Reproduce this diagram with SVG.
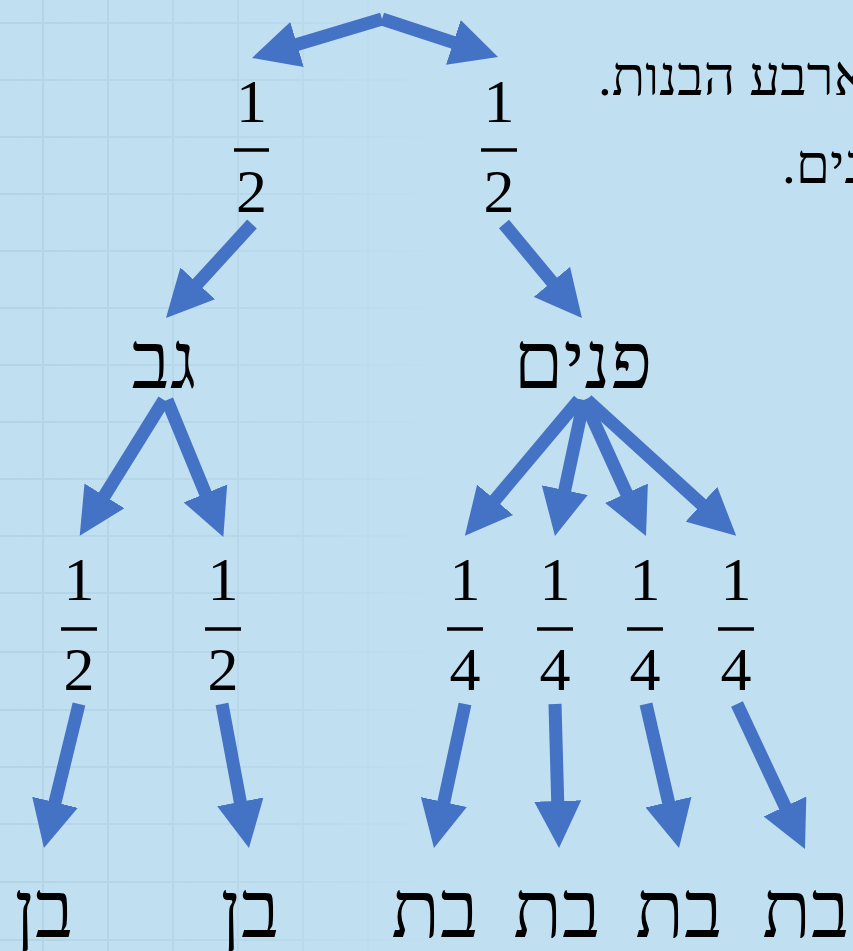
<svg xmlns="http://www.w3.org/2000/svg" width="853" height="951" viewBox="0 0 853 951">
  <style>
    .conn line { stroke: #4472C4; stroke-width: 13; stroke-linecap: butt; fill: none; marker-end: url(#head); }
    .frac { font-family: "Liberation Serif", "DejaVu Serif", serif; font-size: 62px; fill: #000; text-anchor: middle; }
    .bar { stroke: #000; stroke-width: 3.5; }
    .heb { font-family: "Liberation Serif", "DejaVu Sans", serif; font-size: 80px; fill: #000; text-anchor: middle; }
    .note { font-family: "Liberation Serif", "DejaVu Sans", serif; font-size: 55px; fill: #000; text-anchor: end; direction: rtl; }
    .grid line { stroke: #A9CBE0; stroke-width: 2; }
  </style>
  <defs>
    <marker id="head" markerUnits="userSpaceOnUse" viewBox="0 0 47 47" markerWidth="47" markerHeight="47" refX="7" refY="23.5" orient="auto">
      <path d="M0,0 L47,23.5 L0,47 Z" fill="#4472C4"/>
    </marker>
    <linearGradient id="fade" x1="0" y1="0" x2="853" y2="0" gradientUnits="userSpaceOnUse">
      <stop offset="0" stop-color="#fff" stop-opacity="0.55"/>
      <stop offset="0.3" stop-color="#fff" stop-opacity="0.35"/>
      <stop offset="0.5" stop-color="#fff" stop-opacity="0"/>
    </linearGradient>
    <mask id="gridmask" maskUnits="userSpaceOnUse" x="0" y="0" width="853" height="951">
      <rect x="0" y="0" width="853" height="951" fill="url(#fade)"/>
    </mask>
  </defs>

  <rect x="0" y="0" width="853" height="951" fill="#C0DFF1"/>

  <g class="grid" mask="url(#gridmask)">
    <line x1="43" y1="0" x2="43" y2="951"/>
    <line x1="108" y1="0" x2="108" y2="951"/>
    <line x1="173" y1="0" x2="173" y2="951"/>
    <line x1="238" y1="0" x2="238" y2="951"/>
    <line x1="303" y1="0" x2="303" y2="951"/>
    <line x1="368" y1="0" x2="368" y2="951"/>
    <line x1="433" y1="0" x2="433" y2="951"/>
    <line x1="0" y1="23" x2="853" y2="23"/>
    <line x1="0" y1="80" x2="853" y2="80"/>
    <line x1="0" y1="137" x2="853" y2="137"/>
    <line x1="0" y1="194" x2="853" y2="194"/>
    <line x1="0" y1="251" x2="853" y2="251"/>
    <line x1="0" y1="308" x2="853" y2="308"/>
    <line x1="0" y1="365" x2="853" y2="365"/>
    <line x1="0" y1="422" x2="853" y2="422"/>
    <line x1="0" y1="479" x2="853" y2="479"/>
    <line x1="0" y1="536" x2="853" y2="536"/>
    <line x1="0" y1="593" x2="853" y2="593"/>
    <line x1="0" y1="652" x2="853" y2="652"/>
    <line x1="0" y1="710" x2="853" y2="710"/>
    <line x1="0" y1="767" x2="853" y2="767"/>
    <line x1="0" y1="824" x2="853" y2="824"/>
    <line x1="0" y1="882" x2="853" y2="882"/>
    <line x1="0" y1="940" x2="853" y2="940"/>
  </g>

  <g id="note">
    <text class="note" x="598" y="95">ארבע הבנות.</text>
    <text class="note" x="782" y="183">פנים.</text>
  </g>

  <g class="conn" id="connectors">
    <line x1="382" y1="19" x2="290.3" y2="46.5"/>
    <line x1="382" y1="19" x2="460" y2="44.6"/>
    <line x1="252" y1="224" x2="193" y2="288.5"/>
    <line x1="504" y1="224" x2="556.4" y2="287.2"/>
    <line x1="164" y1="400" x2="100.8" y2="501.8"/>
    <line x1="167" y1="400" x2="208.1" y2="499.9"/>
    <line x1="579" y1="400" x2="490.6" y2="505.2"/>
    <line x1="584" y1="400" x2="563.3" y2="496.9"/>
    <line x1="584" y1="400" x2="629.4" y2="499.6"/>
    <line x1="587" y1="400" x2="706.6" y2="508.9"/>
    <line x1="79" y1="704" x2="53.4" y2="809.1"/>
    <line x1="222" y1="704" x2="241.6" y2="808.7"/>
    <line x1="465" y1="704" x2="442.4" y2="808.9"/>
    <line x1="555" y1="704" x2="557.9" y2="808"/>
    <line x1="646" y1="704" x2="670.1" y2="809"/>
    <line x1="737" y1="704" x2="788" y2="812.8"/>
  </g>

  <g id="p-left-top">
    <text class="frac" x="251.5" y="122">1</text>
    <line class="bar" x1="234" y1="150" x2="269" y2="150"/>
    <text class="frac" x="251.5" y="212">2</text>
  </g>
  <g id="p-right-top">
    <text class="frac" x="499" y="122">1</text>
    <line class="bar" x1="481" y1="150" x2="517" y2="150"/>
    <text class="frac" x="499" y="212">2</text>
  </g>

  <g id="gav"><text class="heb" x="164" y="388">גב</text></g>
  <g id="panim"><text class="heb" x="583" y="388">פנים</text></g>

  <g id="p-half-1">
    <text class="frac" x="79" y="600">1</text>
    <line class="bar" x1="61" y1="629" x2="97" y2="629"/>
    <text class="frac" x="79" y="690">2</text>
  </g>
  <g id="p-half-2">
    <text class="frac" x="223" y="600">1</text>
    <line class="bar" x1="205" y1="629" x2="241" y2="629"/>
    <text class="frac" x="223" y="690">2</text>
  </g>
  <g id="p-quarter-1">
    <text class="frac" x="465" y="600">1</text>
    <line class="bar" x1="447" y1="629" x2="483" y2="629"/>
    <text class="frac" x="465" y="690">4</text>
  </g>
  <g id="p-quarter-2">
    <text class="frac" x="555" y="600">1</text>
    <line class="bar" x1="537" y1="629" x2="573" y2="629"/>
    <text class="frac" x="555" y="690">4</text>
  </g>
  <g id="p-quarter-3">
    <text class="frac" x="645" y="600">1</text>
    <line class="bar" x1="627" y1="629" x2="663" y2="629"/>
    <text class="frac" x="645" y="690">4</text>
  </g>
  <g id="p-quarter-4">
    <text class="frac" x="736" y="600">1</text>
    <line class="bar" x1="718" y1="629" x2="754" y2="629"/>
    <text class="frac" x="736" y="690">4</text>
  </g>

  <g id="ben-1"><text class="heb" x="44" y="937">בן</text></g>
  <g id="ben-2"><text class="heb" x="250" y="937">בן</text></g>
  <g id="bat-1"><text class="heb" x="435" y="937">בת</text></g>
  <g id="bat-2"><text class="heb" x="557" y="937">בת</text></g>
  <g id="bat-3"><text class="heb" x="679" y="937">בת</text></g>
  <g id="bat-4"><text class="heb" x="806" y="937">בת</text></g>
</svg>
